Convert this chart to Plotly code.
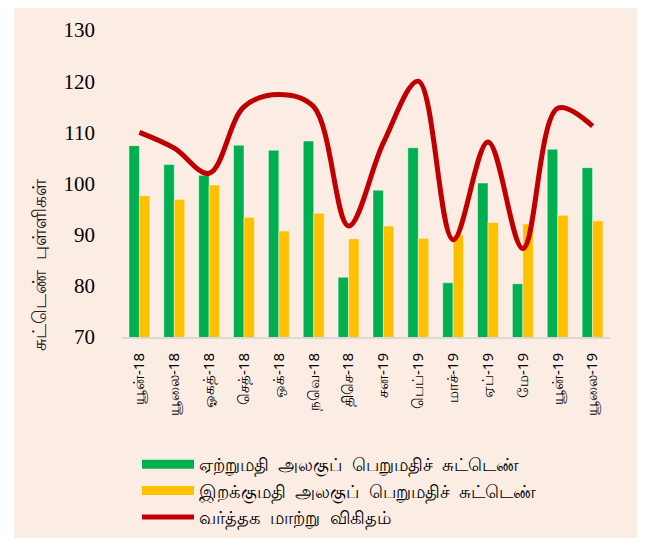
import plotly.graph_objects as go

categories = ["யூன்-18", "யூலை-18", "ஓகத்-18", "செத்-18", "ஒக்-18", "நவெ-18", "திசெ-18",
              "சன-19", "பெப்-19", "மாச்-19", "ஏப்-19", "மே-19", "யூன்-19", "யூலை-19"]
export_index = [107.4, 103.7, 101.6, 107.5, 106.5, 108.3, 81.7, 98.7, 107.0, 80.6, 100.1, 80.4, 106.7, 103.1]
import_index = [97.6, 96.9, 99.7, 93.4, 90.7, 94.2, 89.2, 91.7, 89.3, 90.0, 92.4, 92.1, 93.8, 92.7]
terms_of_trade = [110.0, 106.9, 102.0, 115.0, 117.4, 115.0, 91.7, 108.0, 120.0, 89.0, 108.1, 87.3, 114.7, 111.2]

SP = "\u00a0 "
name_export = SP.join(["ஏற்றுமதி", "அலகுப்", "பெறுமதிச்", "சுட்டெண்"])
name_import = SP.join(["இறக்குமதி", "அலகுப்", "பெறுமதிச்", "சுட்டெண்"])
name_tot = SP.join(["வர்த்தக", "மாற்று", "விகிதம்"])
y_title = SP.join(["சுட்டெண்", "புள்ளிகள்"])

GREEN = "#00B050"
YELLOW = "#FFC000"
RED = "#C00000"
BG = "#FCEDE4"
FONT = "Noto Sans, DejaVu Sans, sans-serif"

fig = go.Figure()
fig.add_trace(go.Bar(x=categories, y=export_index, name=name_export, marker_color=GREEN,
                     marker_line=dict(color="rgba(255,255,255,0.45)", width=1), showlegend=False))
fig.add_trace(go.Bar(x=categories, y=import_index, name=name_import, marker_color=YELLOW,
                     marker_line=dict(color="rgba(255,255,255,0.45)", width=1), showlegend=False))
fig.add_trace(go.Scatter(x=categories, y=terms_of_trade, name=name_tot, mode="lines",
                         line=dict(color=RED, width=5, shape="spline", smoothing=1.0),
                         showlegend=False))
# legend entries
fig.add_trace(go.Scatter(x=[None], y=[None], mode="lines", name=name_export,
                         line=dict(color=GREEN, width=9), legendgroup="a"))
fig.add_trace(go.Scatter(x=[None], y=[None], mode="lines", name=name_import,
                         line=dict(color=YELLOW, width=9), legendgroup="b"))
fig.add_trace(go.Scatter(x=[None], y=[None], mode="lines", name=name_tot,
                         line=dict(color=RED, width=5), legendgroup="c"))

# page has an 8px body margin, so the figure is sized/offset accordingly
OFF = 8
W, H = 652 - OFF, 541 - OFF
L, T = 122 - OFF, 30 - OFF
R = W - (610 - OFF)
B = H - (337 - OFF)
pw, ph = W - L - R, H - T - B

def px_x(p):
    return (p - OFF - L) / pw

def px_y(p):
    return (H - B - (p - OFF)) / ph

fig.add_shape(type="rect", xref="paper", yref="paper", layer="below",
              x0=px_x(14), x1=px_x(637), y0=px_y(538), y1=px_y(0),
              fillcolor=BG, line_width=0)

fig.add_annotation(text=y_title, xref="paper", yref="paper", x=px_x(38), y=px_y(265),
                   showarrow=False, textangle=-90, font=dict(family=FONT, size=18.5, color="#222"),
                   xanchor="center", yanchor="middle")

fig.update_layout(
    width=W, height=H,
    margin=dict(l=L, r=R, t=T, b=B, autoexpand=False),
    paper_bgcolor="white",
    plot_bgcolor=BG,
    barmode="group",
    bargap=0.4,
    bargroupgap=0.0,
    font=dict(family=FONT, color="black"),
    legend=dict(orientation="v", xref="container", yref="container",
                x=(137 - OFF) / W, y=1 - (446 - OFF) / H, xanchor="left", yanchor="top",
                font=dict(family=FONT, size=18, color="black"), itemwidth=52,
                tracegroupgap=0, bgcolor="rgba(0,0,0,0)"),
)
fig.update_xaxes(type="category", tickangle=-90, showgrid=False, showline=True,
                 linecolor="#D9D9D9", linewidth=2, ticks="", automargin=False,
                 ticklabelstandoff=8,
                 tickfont=dict(family=FONT, size=15, color="black"))
fig.update_yaxes(range=[70, 130], dtick=10, tick0=70, showgrid=False, zeroline=False,
                 showline=False, ticks="", ticklabelstandoff=26, automargin=False,
                 tickfont=dict(family="Liberation Serif, serif", size=21, color="black"))

fig.write_html("out.html")
